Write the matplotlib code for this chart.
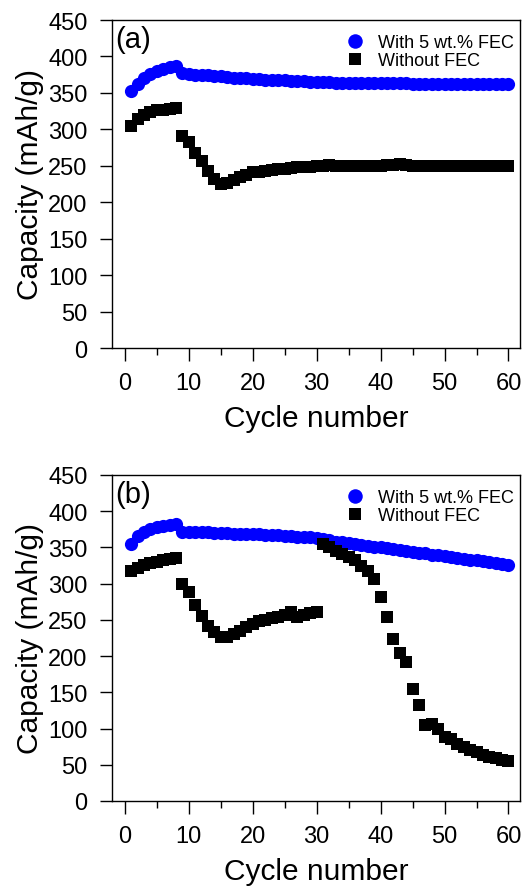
import numpy as np
import matplotlib
matplotlib.use('Agg')
import matplotlib.pyplot as plt

plt.rcParams['font.family'] = ['Liberation Sans', 'DejaVu Sans']

# Zyklen 1..60
cycles = list(range(1, 61))

# (a) Kapazitaet
a_fec = [352, 362, 370, 376, 380, 383, 385, 387, 377, 376,
         375, 375, 374, 373, 373, 372, 371, 371, 370, 369,
         369, 368, 368, 367, 367, 366, 366, 366, 365, 365,
         365, 365, 364, 364, 364, 364, 364, 363, 363, 363,
         363, 363, 363, 363, 362, 362, 362, 362, 362, 362,
         362, 362, 362, 362, 362, 362, 362, 362, 362, 362]
a_nofec = [305, 314, 320, 324, 326, 327, 328, 329, 291, 282,
           268, 257, 243, 232, 225, 227, 231, 235, 238, 241,
           242, 243, 244, 245, 246, 247, 248, 249, 249, 250,
           250, 251, 250, 250, 250, 250, 250, 250, 250, 250,
           251, 251, 252, 251, 250, 250, 250, 250, 250, 250,
           250, 250, 250, 250, 250, 250, 250, 250, 250, 250]

# (b) Kapazitaet
b_fec = [355, 366, 372, 376, 378, 380, 381, 383, 372, 372,
         371, 371, 371, 370, 370, 370, 369, 369, 369, 368,
         368, 367, 367, 367, 366, 366, 365, 364, 364, 363,
         361, 360, 358, 357, 356, 355, 354, 352, 351, 350,
         349, 348, 346, 345, 344, 343, 342, 340, 339, 338,
         337, 336, 334, 333, 332, 331, 330, 328, 327, 326]
b_nofec = [318, 322, 326, 328, 330, 332, 334, 336, 300, 288,
           270, 256, 242, 233, 227, 226, 230, 234, 240, 245,
           248, 250, 252, 254, 257, 261, 254, 257, 260, 261,
           355, 350, 345, 341, 337, 332, 325, 318, 306, 281,
           254, 224, 204, 192, 154, 132, 105, 106, 100, 88,
           86, 78, 75, 71, 67, 64, 61, 59, 57, 55]

W, H = 524, 887
fig = plt.figure(figsize=(W / 100, H / 100), dpi=100)

panels = [
    ('(a)', a_fec, a_nofec, [112 / W, (H - 349) / H, 408 / W, 328 / H]),
    ('(b)', b_fec, b_nofec, [112 / W, (H - 802) / H, 408 / W, 326 / H]),
]

for label, fec, nofec, rect in panels:
    ax = fig.add_axes(rect)
    ax.plot(cycles, fec, 'o', color='#0000ff', ms=9.5, mew=0, label='With 5 wt.% FEC')
    ax.plot(cycles, nofec, 's', color='black', ms=8.4, mew=0, label='Without FEC')
    ax.set_xlim(-2, 61.8)
    ax.set_ylim(0, 450)
    ax.set_xticks(np.arange(0, 61, 10))
    ax.set_xticks(np.arange(5, 61, 10), minor=True)
    ax.set_yticks(np.arange(0, 451, 50))
    ax.tick_params(axis='both', which='major', direction='out', length=9, width=1,
                   labelsize=17, pad=8.5)
    ax.tick_params(axis='x', which='minor', direction='out', length=5, width=1)
    for s in ax.spines.values():
        s.set_linewidth(1)
    ax.set_xlabel('Cycle number', fontsize=21.5, labelpad=7)
    ax.set_ylabel('Capacity (mAh/g)', fontsize=21.5, labelpad=3)
    ax.text(0.008, 0.985, label, transform=ax.transAxes, ha='left', va='top', fontsize=21)
    ax.legend(loc='upper right', frameon=False, fontsize=13, handlelength=1.0,
              handletextpad=0.8, labelspacing=0.05, borderaxespad=0.2,
              markerscale=1.1, bbox_to_anchor=(1.012, 0.99))

fig.savefig('out.png', dpi=100)
